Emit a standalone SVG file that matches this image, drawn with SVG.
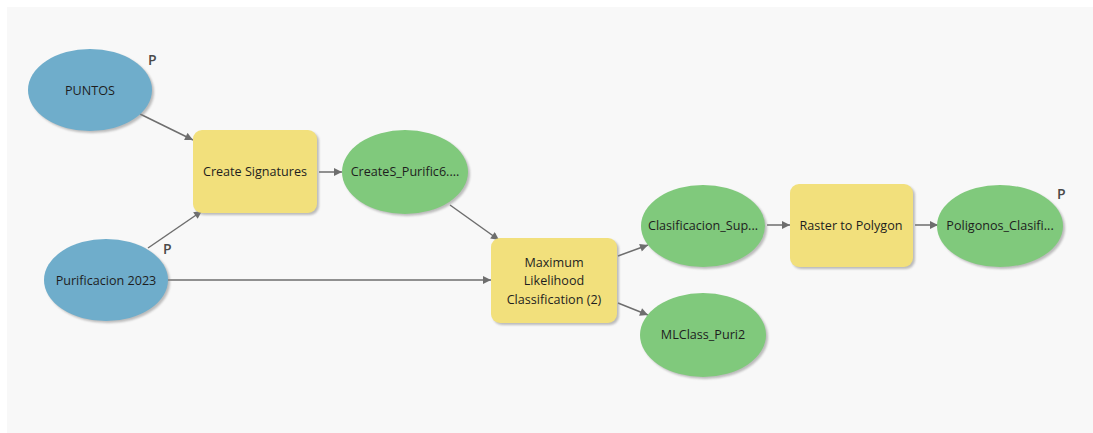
<svg xmlns="http://www.w3.org/2000/svg" width="1093" height="433" viewBox="0 0 1093 433">
<style>
.bg{fill:#f8f8f8}
.sh{fill:#8a8a8a;opacity:0.55}
.data{fill:#6fadcb}
.out{fill:#80c97c}
.tool{fill:#f2e07c}
.lbl{font-family:"Open Sans","Noto Sans",sans-serif;font-size:12.6px;fill:#1e1e1e;text-anchor:middle}
.p{font-family:"Open Sans","Noto Sans",sans-serif;font-size:14px;fill:#4a4a4a;font-weight:600}
.edge{stroke:#6e6e6e;stroke-width:1.5;fill:none;marker-end:url(#arr)}
</style>
<defs>
<marker id="arr" viewBox="0 0 10 10" refX="10" refY="5" markerWidth="9" markerHeight="8" markerUnits="userSpaceOnUse" orient="auto">
<path d="M0,0 L10,5 L0,10 z" fill="#6e6e6e"/>
</marker>
<filter id="blur" x="-20%" y="-20%" width="140%" height="140%"><feGaussianBlur stdDeviation="1.2"/></filter>
</defs>
<rect x="0" y="0" width="1093" height="433" fill="#ffffff"/>
<rect class="bg" x="7" y="7" width="1086" height="426"/>

<g id="connectors">
<line class="edge" x1="140" y1="114" x2="193" y2="140"/>
<line class="edge" x1="148" y1="248" x2="202" y2="211"/>
<line class="edge" x1="167" y1="280" x2="491" y2="280"/>
<line class="edge" x1="319" y1="172" x2="342" y2="172"/>
<line class="edge" x1="450" y1="205" x2="499" y2="240"/>
<line class="edge" x1="618" y1="256" x2="648" y2="245"/>
<line class="edge" x1="618" y1="303" x2="648" y2="315"/>
<line class="edge" x1="767" y1="225" x2="790" y2="225"/>
<line class="edge" x1="915" y1="225" x2="938" y2="225"/>
</g>

<g id="puntos">
<ellipse class="sh" cx="92" cy="92" rx="62" ry="41" filter="url(#blur)"/>
<ellipse class="data" cx="90" cy="90" rx="62" ry="41"/>
<text class="lbl" x="90" y="95">PUNTOS</text>
<text class="p" x="148" y="65">P</text>
</g>

<g id="purificacion2023">
<ellipse class="sh" cx="108" cy="282" rx="62" ry="41" filter="url(#blur)"/>
<ellipse class="data" cx="106" cy="280" rx="62" ry="41"/>
<text class="lbl" x="106" y="285">Purificacion 2023</text>
<text class="p" x="163" y="254">P</text>
</g>

<g id="createSignatures">
<rect class="sh" x="195" y="132" width="124" height="83" rx="9" filter="url(#blur)"/>
<rect class="tool" x="193" y="130" width="124" height="83" rx="9"/>
<text class="lbl" x="255" y="176">Create Signatures</text>
</g>

<g id="createS_purific6">
<ellipse class="sh" cx="407" cy="174" rx="63" ry="42" filter="url(#blur)"/>
<ellipse class="out" cx="405" cy="172" rx="63" ry="42"/>
<text class="lbl" x="405" y="176">CreateS_Purific6....</text>
</g>

<g id="maxLikelihood">
<rect class="sh" x="493" y="240" width="126" height="85" rx="9" filter="url(#blur)"/>
<rect class="tool" x="491" y="238" width="126" height="85" rx="9"/>
<text class="lbl" x="554" y="267">Maximum</text>
<text class="lbl" x="554" y="285">Likelihood</text>
<text class="lbl" x="554" y="304">Classification (2)</text>
</g>

<g id="clasificacionSup">
<ellipse class="sh" cx="705" cy="228" rx="62" ry="41" filter="url(#blur)"/>
<ellipse class="out" cx="703" cy="226" rx="62" ry="41"/>
<text class="lbl" x="703" y="230">Clasificacion_Sup...</text>
</g>

<g id="rasterToPolygon">
<rect class="sh" x="792" y="186" width="123" height="83" rx="9" filter="url(#blur)"/>
<rect class="tool" x="790" y="184" width="123" height="83" rx="9"/>
<text class="lbl" x="851" y="230">Raster to Polygon</text>
</g>

<g id="poligonosClasifi">
<ellipse class="sh" cx="1002" cy="228" rx="63" ry="41" filter="url(#blur)"/>
<ellipse class="out" cx="1000" cy="226" rx="63" ry="41"/>
<text class="lbl" x="1000" y="230">Poligonos_Clasifi...</text>
<text class="p" x="1057" y="199">P</text>
</g>

<g id="mlclassPuri2">
<ellipse class="sh" cx="705" cy="337" rx="63" ry="42" filter="url(#blur)"/>
<ellipse class="out" cx="703" cy="335" rx="63" ry="42"/>
<text class="lbl" x="703" y="339">MLClass_Puri2</text>
</g>
</svg>
